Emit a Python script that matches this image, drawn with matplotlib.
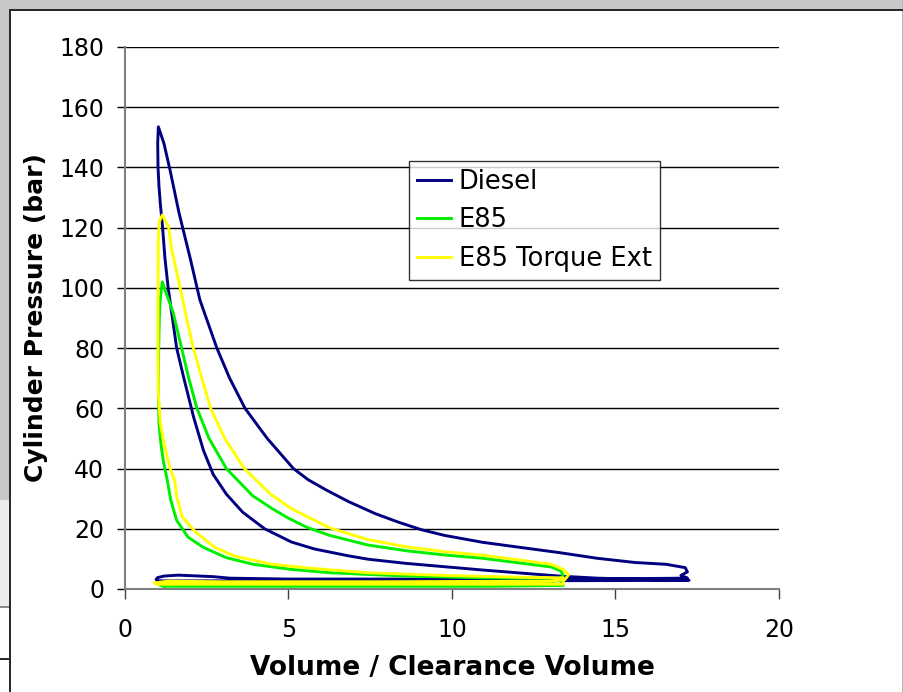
import matplotlib
matplotlib.use("Agg")
import matplotlib.pyplot as plt
from matplotlib.patches import Rectangle
from matplotlib.lines import Line2D

# cylinder pressure vs. volume ratio, one closed loop per fuel
# diesel: intake, compression, combustion, expansion, exhaust
diesel_v = [1.0, 5.0, 10.0, 15.0, 17.25,
            16.1, 14.44, 13.27, 12.1, 10.94, 9.77, 8.6, 7.43, 6.84, 5.79, 5.09, 4.27,
            3.6, 3.1, 2.7, 2.4, 2.1, 1.8, 1.58, 1.45, 1.32, 1.22, 1.15, 1.08,
            1.04, 1.01, 1.0, 1.02,
            1.19, 1.38, 1.65, 1.99, 2.29, 2.81, 3.2, 3.67, 4.35, 5.15, 5.6, 6.15, 6.84,
            7.66, 8.36, 9.06, 9.77, 10.94, 12.1, 13.27, 14.44, 15.6, 16.55, 17.13, 17.2,
            17.0, 17.2,
            15.0, 10.0, 5.0, 3.2, 2.7, 1.63, 1.2, 1.0, 0.95, 1.0]
diesel_p = [2.7, 2.7, 2.7, 2.8, 2.9,
            3.1, 3.6, 4.3, 5.3, 6.3, 7.4, 8.5, 9.9, 11.0, 13.3, 15.6, 20.0,
            25.5, 31.5, 38.0, 46.0, 57.0, 70.0, 80.0, 90.0, 100.0, 110.0, 120.0, 128.0,
            133.6, 140.0, 148.0, 153.5,
            148.0, 139.0, 125.0, 110.0, 96.0, 80.0, 70.0, 60.0, 50.0, 40.0, 36.3, 32.9, 29.0,
            25.0, 22.2, 19.7, 17.8, 15.5, 13.8, 12.1, 10.2, 8.8, 8.2, 7.1, 5.7,
            4.5, 3.6,
            3.4, 3.3, 3.3, 3.6, 4.1, 4.6, 4.3, 3.8, 3.2, 2.7]

e85_v = [1.2, 6.0, 11.2, 13.4,
         13.27, 10.9, 8.6, 6.26, 5.09, 3.92, 3.1, 2.4, 1.93, 1.58, 1.4, 1.29, 1.18,
         1.1, 1.04, 1.02, 1.03, 1.05, 1.07, 1.14,
         1.27, 1.48, 1.73, 1.95, 2.2, 2.57, 3.1, 3.9, 4.5, 5.0, 5.56, 6.26, 7.43,
         8.6, 9.77, 10.94, 12.1, 13.04, 13.33, 13.4, 13.27,
         13.0, 8.0, 3.0, 1.2, 1.0, 1.2]
e85_p = [0.9, 0.9, 0.9, 1.2,
         3.5, 3.7, 4.3, 5.4, 6.5, 8.2, 10.4, 13.8, 17.2, 22.8, 29.5, 36.3, 42.0,
         48.0, 55.0, 65.0, 80.0, 90.0, 95.0, 102.0,
         98.0, 91.5, 80.0, 70.0, 60.0, 50.0, 40.0, 31.0, 26.7, 23.5, 20.5, 17.8, 14.6,
         12.7, 11.3, 10.2, 8.6, 7.3, 6.0, 4.5, 3.1,
         2.2, 2.0, 2.0, 2.2, 1.5, 0.9]

ext_v = [1.0, 6.0, 13.4,
         13.4, 12.1, 9.77, 7.43, 5.67, 4.5, 3.33, 2.75, 2.16, 1.75, 1.58, 1.52, 1.38,
         1.2, 1.08, 1.02, 1.01, 1.01, 1.02, 1.05, 1.14,
         1.33, 1.43, 1.68, 1.94, 2.09, 2.35, 2.62, 3.05, 3.65, 4.45, 5.09, 6.26,
         7.43, 8.6, 9.77, 10.94, 12.1, 13.04, 13.4, 13.57, 13.45,
         13.0, 8.0, 3.0, 1.3, 0.9, 1.0]
ext_p = [1.6, 1.6, 1.6,
         3.7, 3.9, 4.5, 5.4, 6.9, 8.2, 11.0, 13.8, 18.9, 23.9, 30.7, 36.3, 40.0,
         48.0, 55.0, 65.0, 80.0, 100.0, 117.0, 122.0, 124.2,
         120.3, 112.6, 100.4, 87.1, 80.0, 70.0, 60.0, 50.0, 40.0, 31.5, 26.7, 20.3,
         16.4, 14.0, 12.4, 11.2, 9.6, 8.2, 6.5, 4.8, 3.1,
         2.6, 2.4, 2.4, 2.6, 2.0, 1.6]

series_names = ["Diesel", "E85", "E85 Torque Ext"]
series_colors = ["#000080", "#00ee00", "#ffff00"]
x_ticks = [0, 5, 10, 15, 20]
y_ticks = [0, 20, 40, 60, 80, 100, 120, 140, 160, 180]

W, H = 904, 692
fig = plt.figure(figsize=(W / 100, H / 100), dpi=100)
fig.patch.set_facecolor("white")


def sheet_rect(x, y, w, h, color):
    # rectangle in pixel units measured from the top-left corner
    r = Rectangle((x / W, 1 - (y + h) / H), w / W, h / H,
                  transform=fig.transFigure, lw=0, facecolor=color, zorder=-5)
    fig.patches.append(r)


# worksheet strip and chart-object border
sheet_rect(0, 0, W, 10, "#c8c8c8")
sheet_rect(0, 0, 9, 500, "#c8c8c8")
sheet_rect(0, 500, 9, 106, "#ececec")
sheet_rect(W - 2, 0, 2, H, "#b8b8b8")
sheet_rect(9, 9, W - 9, 2, "#2a2a2a")
sheet_rect(9, 9, 2, H - 9, "#2a2a2a")
sheet_rect(0, 606, 9, 1.5, "#888888")
sheet_rect(0, 658, 9, 1.5, "#2a2a2a")

ax = fig.add_axes([125 / W, 103 / H, 654 / W, 542 / H])
ax.set_facecolor("white")

for v, p, name, col in zip([diesel_v, e85_v, ext_v], [diesel_p, e85_p, ext_p],
                           series_names, series_colors):
    ax.plot(v, p, color=col, lw=2.1, label=name, solid_joinstyle="round", zorder=3)

ax.set_xlim(0, 20)
ax.set_ylim(0, 180)
ax.set_xticks(x_ticks)
ax.set_yticks(y_ticks)
ax.yaxis.grid(True, color="black", lw=1.0)
ax.set_axisbelow(True)

for s in ["top", "right"]:
    ax.spines[s].set_visible(False)
for s in ["left", "bottom"]:
    ax.spines[s].set_color("#808080")
    ax.spines[s].set_linewidth(1.5)

ax.tick_params(axis="y", direction="out", length=6, width=1, color="black",
               labelsize=17, pad=9)
ax.tick_params(axis="x", direction="out", length=7, width=1, color="#404040",
               labelsize=17, pad=14)

ax.set_xlabel("Volume / Clearance Volume", fontsize=19, fontweight="bold", labelpad=9)
ax.set_ylabel("Cylinder Pressure (bar)", fontsize=18, fontweight="bold", labelpad=8)

handles = [Line2D([], [], color=c, lw=2.1) for c in series_colors]
leg = ax.legend(handles, series_names, loc="upper left", bbox_to_anchor=(0.434, 0.79),
                fontsize=18.5, frameon=True, fancybox=False, edgecolor="black",
                handlelength=1.35, handletextpad=0.3, borderaxespad=0, borderpad=0.3,
                labelspacing=0.5)
leg.get_frame().set_linewidth(1.0)

fig.savefig("out.png", dpi=100)
